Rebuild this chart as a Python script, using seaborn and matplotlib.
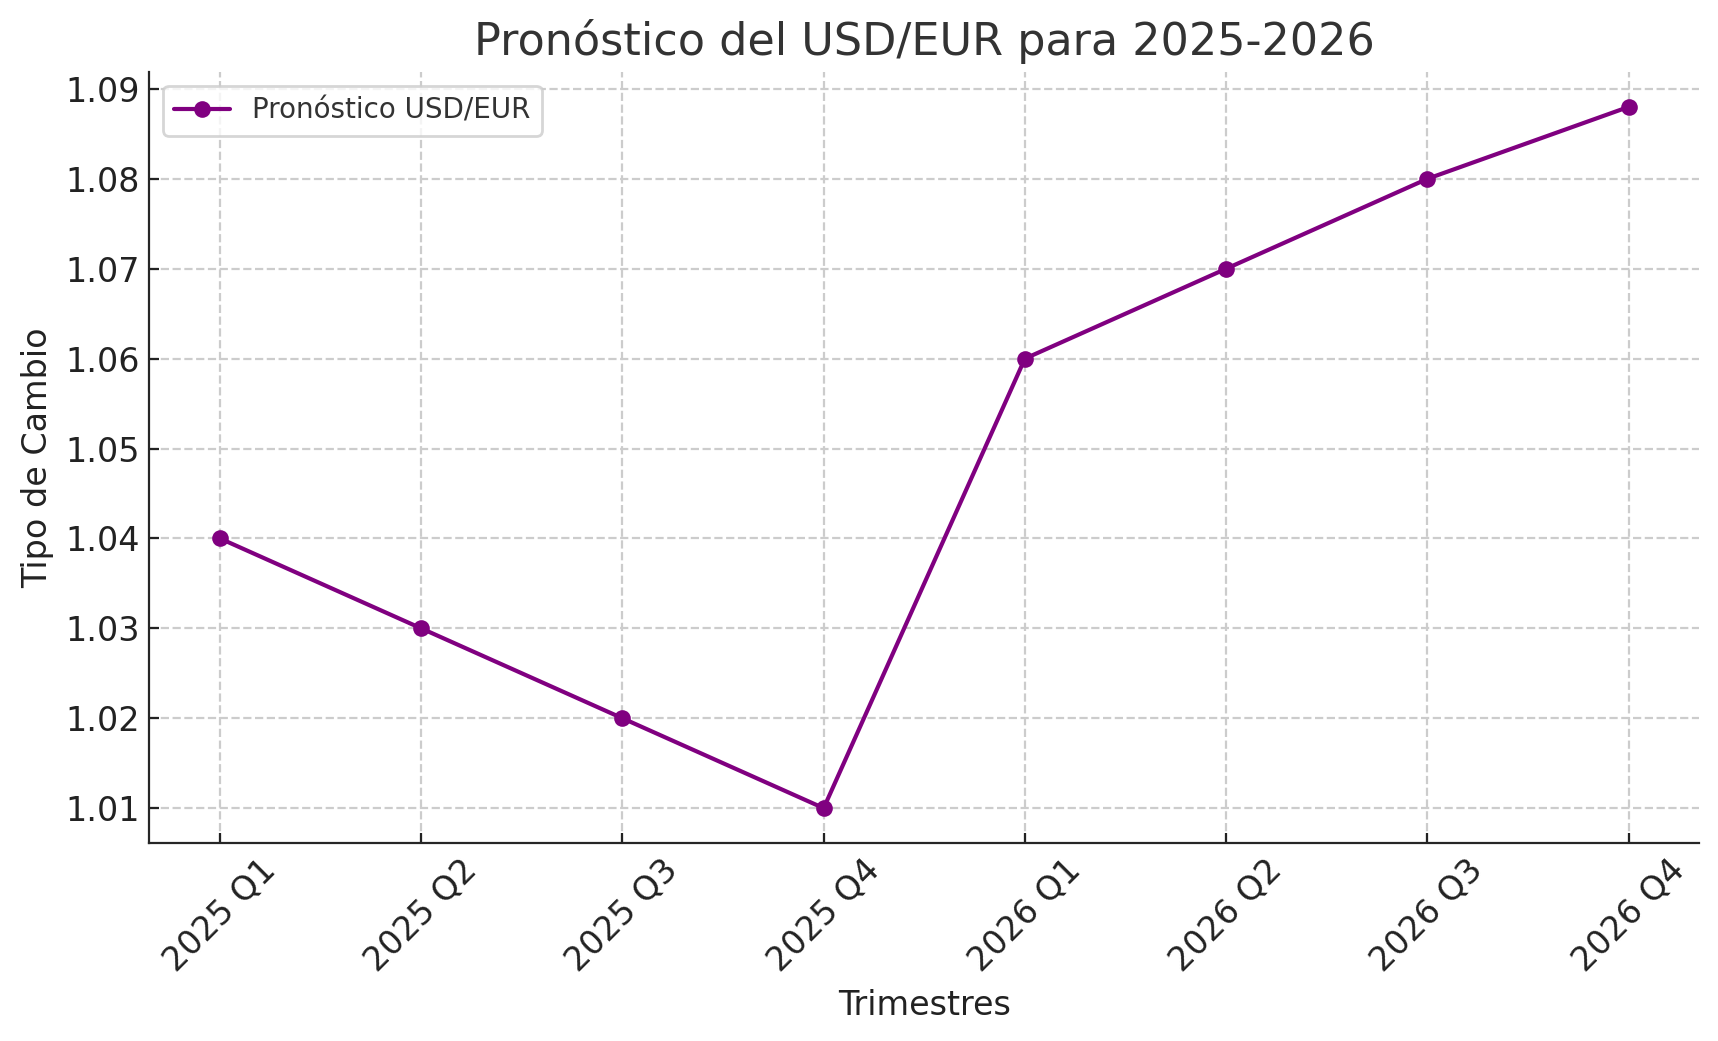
import pandas as pd
import matplotlib
matplotlib.use("Agg")
import matplotlib.pyplot as plt
import seaborn as sns

# Data
trimestres = ["2025 Q1", "2025 Q2", "2025 Q3", "2025 Q4",
              "2026 Q1", "2026 Q2", "2026 Q3", "2026 Q4"]
tipo_cambio = [1.04, 1.03, 1.02, 1.01, 1.06, 1.07, 1.08, 1.088]

df = pd.DataFrame({"Trimestre": trimestres, "Tipo": tipo_cambio})

sns.set_style("ticks")
plt.rcParams['font.family'] = ['DejaVu Sans']

fig, ax = plt.subplots(figsize=(8.59, 5.205), dpi=200)

sns.lineplot(data=df, x="Trimestre", y="Tipo", marker="o", color="purple",
             linewidth=1.5, markersize=6, markeredgewidth=0,
             label="Pronóstico USD/EUR", ax=ax, sort=False)

ax.set_title("Pronóstico del USD/EUR para 2025-2026", fontsize=16, color="#333333")
ax.set_xlabel("Trimestres", fontsize=12, color="#222222")
ax.set_ylabel("Tipo de Cambio", fontsize=12, color="#222222")
ax.tick_params(axis="both", labelsize=12, colors="#222222", length=3.5,
               direction="in")
plt.setp(ax.get_xticklabels(), rotation=45)

ax.set_yticks([1.01, 1.02, 1.03, 1.04, 1.05, 1.06, 1.07, 1.08, 1.09])
ax.grid(True, linestyle="--", color="#cccccc", linewidth=0.8)
ax.set_axisbelow(True)
sns.despine(ax=ax)

leg = ax.legend(loc="upper left", fontsize=10, frameon=True)
for t in leg.get_texts():
    t.set_color("#333333")

fig.subplots_adjust(left=0.087, right=0.989, top=0.931, bottom=0.19)
plt.savefig("out.png", dpi=200)
